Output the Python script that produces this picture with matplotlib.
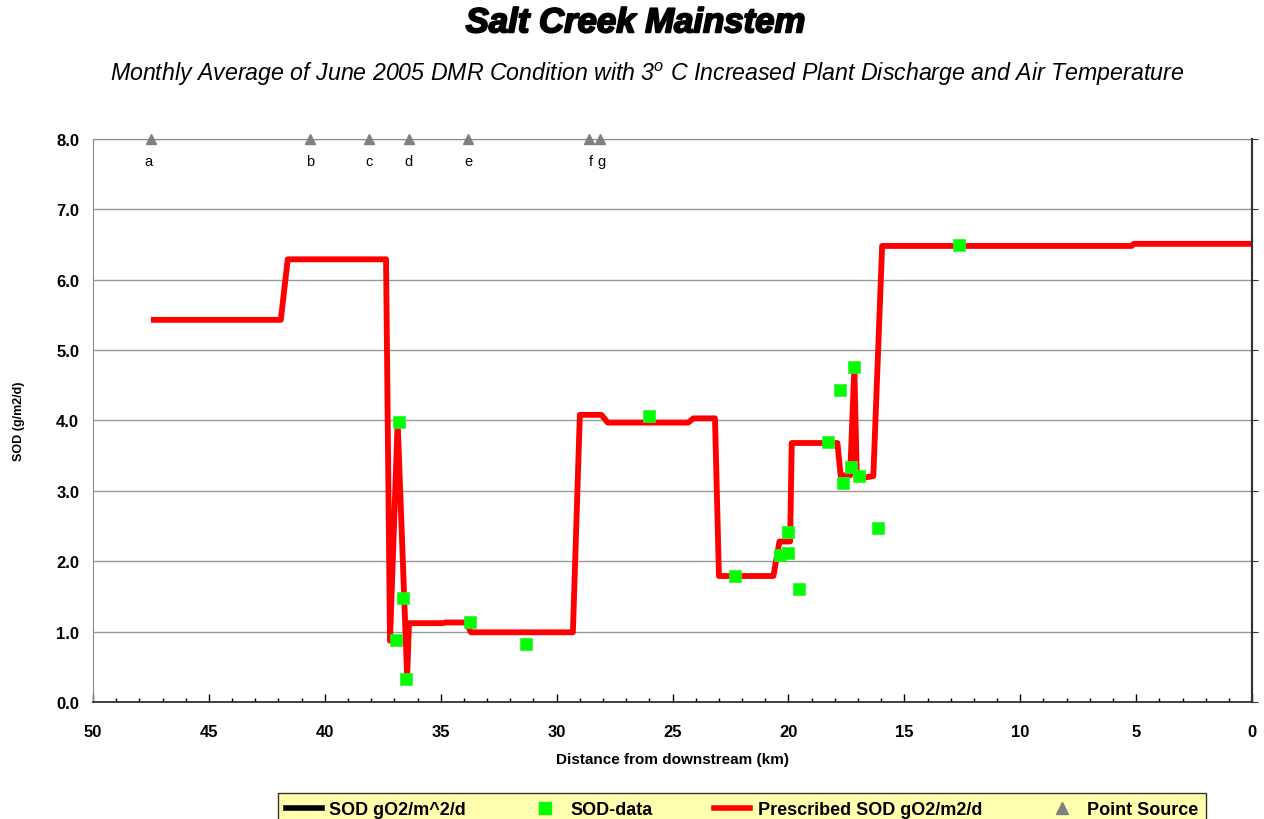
import matplotlib
matplotlib.use('Agg')
from matplotlib import pyplot as plt
from matplotlib.lines import Line2D
from matplotlib.ticker import MultipleLocator, FormatStrFormatter
import matplotlib.patheffects as pe

plt.rcParams['font.family'] = ['Liberation Sans', 'DejaVu Sans']
plt.rcParams['mathtext.fontset'] = 'custom'
plt.rcParams['mathtext.rm'] = 'Liberation Sans:italic'
plt.rcParams['mathtext.it'] = 'Liberation Sans:italic'

# Prescribed SOD along the creek (km from downstream, g/m2/d)
prescribed_km = [47.5, 41.9, 41.6, 37.36, 37.19, 36.86, 36.45, 36.37, 34.9, 34.8,
                 33.9, 33.7, 29.3, 29.0, 28.07, 27.8, 24.33, 24.1, 23.17, 23.0,
                 20.65, 20.39, 19.93, 19.86, 17.89, 17.75, 17.34, 17.16, 17.05,
                 16.34, 15.96, 5.2, 5.1, 0.0]
prescribed_sod = [5.43, 5.43, 6.29, 6.29, 0.87, 3.98, 0.36, 1.12, 1.12, 1.13,
                  1.13, 0.99, 0.99, 4.08, 4.08, 3.97, 3.97, 4.03, 4.03, 1.79,
                  1.79, 2.28, 2.28, 3.68, 3.68, 3.22, 3.22, 4.76, 3.17,
                  3.21, 6.48, 6.48, 6.51, 6.51]

# measured SOD data
data_km = [36.93, 36.80, 36.63, 36.50, 33.74, 31.32, 26.01, 22.30, 20.36, 20.0,
           20.03, 19.54, 18.28, 17.77, 17.63, 17.16, 17.30, 16.97, 16.16, 12.64]
data_sod = [0.88, 3.98, 1.48, 0.33, 1.13, 0.82, 4.07, 1.79, 2.09, 2.12,
            2.42, 1.61, 3.69, 4.43, 3.11, 4.76, 3.34, 3.21, 2.47, 6.49]

# point sources
ps_km = [47.5, 40.62, 38.08, 36.38, 33.81, 28.6, 28.15]
ps_labels = ['a', 'b', 'c', 'd', 'e', 'f', 'g']

fig = plt.figure(figsize=(12.64, 8.2), dpi=100)
ax = fig.add_axes([0.0736, 0.1427, 0.917, 0.6866])

ax.plot(prescribed_km, prescribed_sod, c='black', lw=0.8,
        solid_capstyle='butt', zorder=2)
ax.plot(prescribed_km, prescribed_sod, c='#FF0000', lw=4.2,
        solid_joinstyle='round', solid_capstyle='butt', zorder=3)
ax.plot(data_km, data_sod, ls='none', marker='s', ms=8.5, mfc='#00FF00',
        mec='#33EE33', mew=0.5, zorder=4)
ax.plot(ps_km, [8.0] * len(ps_km), ls='none', marker='^', ms=7.5,
        mfc='#808080', mec='#808080', zorder=5, clip_on=False)
for k, lab in zip(ps_km, ps_labels):
    dx = 0.1 if lab == 'a' else 0
    if lab in ('f', 'g'):
        dx = -0.09
    ax.text(k + dx, 7.78, lab, ha='center', va='top', fontsize=10.5)

ax.set_xlim(50, 0)
ax.set_ylim(0, 8)
ax.xaxis.set_major_locator(MultipleLocator(5))
ax.xaxis.set_minor_locator(MultipleLocator(1))
ax.yaxis.set_major_locator(MultipleLocator(1))
ax.yaxis.set_major_formatter(FormatStrFormatter('%.1f'))
ax.grid(axis='y', color='#999999', lw=1)
ax.set_axisbelow(True)

for s in ['left', 'top']:
    ax.spines[s].set_color('#888888')
ax.spines['right'].set_color('#333333')
ax.spines['right'].set_linewidth(1.5)
ax.spines['bottom'].set_color('#222222')
ax.spines['bottom'].set_linewidth(1.2)

ax.tick_params(axis='x', which='major', direction='in', length=6, width=1,
               labelsize=12, pad=16)
ax.tick_params(axis='x', which='minor', direction='in', length=3, width=1)
ax.tick_params(axis='y', length=0, labelsize=12, pad=10)
for t in ax.get_xticklabels() + ax.get_yticklabels():
    t.set_fontweight('bold')

ax2 = ax.twinx()
ax2.set_ylim(0, 8)
ax2.yaxis.set_major_locator(MultipleLocator(1))
ax2.set_yticklabels([])
ax2.tick_params(axis='y', direction='out', length=4, color='#333333')
for s in ['left', 'top', 'bottom']:
    ax2.spines[s].set_visible(False)
ax2.spines['right'].set_color('#333333')
ax2.spines['right'].set_linewidth(1.5)

ax.set_xlabel('Distance from downstream (km)', fontsize=11,
              fontweight='bold', labelpad=9)
ax.set_ylabel('SOD (g/m2/d)', fontsize=9, fontweight='bold')
ax.yaxis.set_label_coords(-0.059, 0.5)

fig.text(0.503, 0.971, 'Salt Creek Mainstem', ha='center', va='center',
         fontsize=25, fontweight='heavy', style='italic',
         path_effects=[pe.withStroke(linewidth=1.4, foreground='black')])
fig.text(0.5115, 0.909,
         r'Monthly Average of June 2005 DMR Condition with 3$^{\mathrm{o}}$ C '
         'Increased Plant Discharge and Air Temperature',
         ha='center', va='center', fontsize=16.7, style='italic')

handles = [
    Line2D([], [], c='black', lw=4),
    Line2D([], [], ls='none', marker='s', ms=9, mfc='#00FF00', mec='#00FF00'),
    Line2D([], [], c='#FF0000', lw=4),
    Line2D([], [], ls='none', marker='^', ms=8, mfc='#808080', mec='#808080'),
]
names = ['SOD gO2/m^2/d', 'SOD-data', 'Prescribed SOD gO2/m2/d', 'Point Source']
leg = fig.legend(handles, names, ncol=4, loc='lower center',
                 bbox_to_anchor=(0.587, -0.02), frameon=True, fancybox=False,
                 prop={'weight': 'bold', 'size': 13}, handlelength=2.0,
                 handletextpad=0.4, columnspacing=3.4, borderpad=0.45)
leg.get_frame().set_facecolor('#FFFF99')
leg.get_frame().set_edgecolor('black')
leg.get_frame().set_linewidth(1)

fig.savefig('out.png', dpi=100)
